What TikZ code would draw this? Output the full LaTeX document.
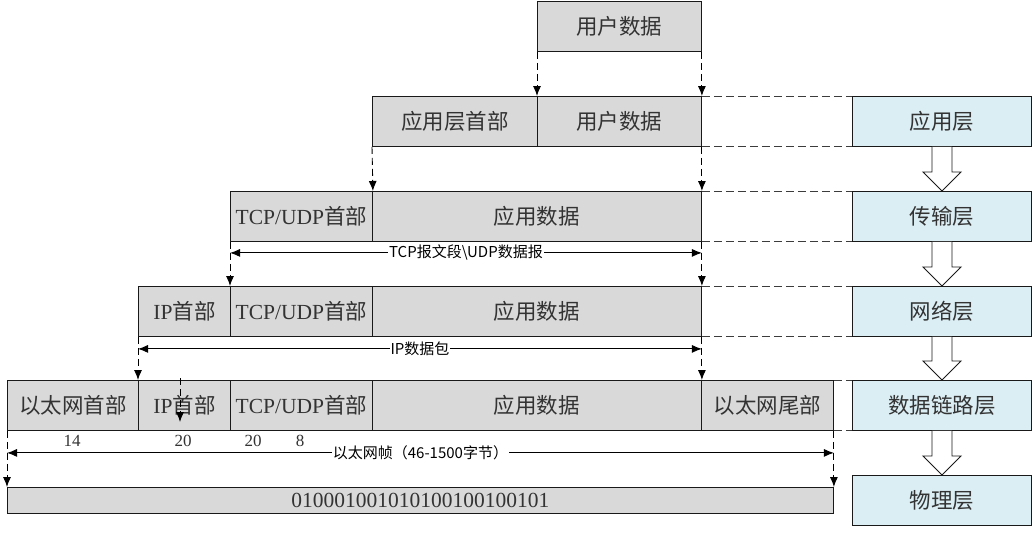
\documentclass[tikz,border=0pt]{standalone}
\usepackage{fontspec}
\setmainfont{Liberation Serif}
\newfontfamily\cjk{Noto Sans CJK SC}
\usetikzlibrary{arrows.meta}
\definecolor{segfill}{RGB}{217,217,217}
\definecolor{layerfill}{RGB}{219,238,244}
\definecolor{edge}{RGB}{25,25,25}
\tikzset{
  every path/.style={line width=0.9pt},
  seg/.style={draw=edge, fill=segfill, anchor=north west, inner sep=0pt,
    minimum height=50pt, text=black!80, font=\fontsize{21.5}{23}\selectfont},
  layer/.style={seg, fill=layerfill, minimum width=179pt},
  drop/.style={dashed, dash pattern=on 7pt off 4pt, -{Latex[length=10pt,width=8pt]}},
  guide/.style={dashed, dash pattern=on 8pt off 4pt, draw=edge!85},
  dim/.style={{Latex[length=10pt,width=8pt]}-{Latex[length=10pt,width=8pt]}},
  lbl/.style={fill=white, inner sep=1pt, font=\cjk\fontsize{15}{16}\selectfont},
  num/.style={font=\fontsize{17}{18}\selectfont, inner sep=0pt, text=black!80},
  hollow/.style={draw=edge, fill=white, line join=miter}
}
\begin{document}
\begin{tikzpicture}[x=1pt,y=1pt,yscale=-1]
\useasboundingbox (0,0) rectangle (1033,542);
% user data
\node[seg, minimum width=164pt] (ud0) at (537,1) {\cjk 用户数据};
% application layer row
\node[seg, minimum width=165pt] (ah) at (372,96) {\cjk 应用层首部};
\node[seg, minimum width=164pt] (ud) at (537,96) {\cjk 用户数据};
% transport layer row
\node[seg, minimum width=142pt] (th3) at (230,191) {TCP/UDP\cjk 首部};
\node[seg, minimum width=329pt] (ad3) at (372,191) {\cjk 应用数据};
% network layer row
\node[seg, minimum width=92pt] (ip4) at (138,286) {IP\cjk 首部};
\node[seg, minimum width=142pt] (th4) at (230,286) {TCP/UDP\cjk 首部};
\node[seg, minimum width=329pt] (ad4) at (372,286) {\cjk 应用数据};
% data link row
\node[seg, minimum width=131pt] (eh) at (7,380) {\cjk 以太网首部};
\node[seg, minimum width=92pt] (ip5) at (138,380) {IP\cjk 首部};
\node[seg, minimum width=142pt] (th5) at (230,380) {TCP/UDP\cjk 首部};
\node[seg, minimum width=329pt] (ad5) at (372,380) {\cjk 应用数据};
\node[seg, minimum width=132pt] (et) at (701,380) {\cjk 以太网尾部};
% physical bits
\node[seg, minimum width=826pt, minimum height=26pt] (bits) at (7,487) {010001001010100100100101};
% layer names
\node[layer] (L1) at (852,96) {\cjk 应用层};
\node[layer] (L2) at (852,191) {\cjk 传输层};
\node[layer] (L3) at (852,286) {\cjk 网络层};
\node[layer] (L4) at (852,380) {\cjk 数据链路层};
\node[layer] (L5) at (852,475) {\cjk 物理层};
% encapsulation drops
\draw[drop] (ud0.south west) -- (ud.north west);
\draw[drop] (ud0.south east) -- (ud.north east);
\draw[drop] (ah.south west) -- (th3.north east);
\draw[drop] (ud.south east) -- (ad3.north east);
\draw[drop] (th3.south west) -- (th4.north west);
\draw[drop] (ad3.south east) -- (ad4.north east);
\draw[drop] (ip4.south west) -- (ip5.north west);
\draw[drop] (ad4.south east) -- (ad5.north east);
\draw[drop] (eh.south west) -- (bits.north west);
\draw[drop] (et.south east) -- (bits.north east);
\coordinate (s1) at (180,378);
\coordinate (s2) at (180,422);
\draw[drop] (s1) -- (s2);
% guide lines to layers
\foreach \a/\b in {ud/L1, ad3/L2, ad4/L3, et/L4}{
  \draw[guide] (\a.north east) -- (\b.north west);
  \draw[guide] (\a.south east) -- (\b.south west);
}
% dimension arrows
\draw[dim] ([yshift=11pt]th3.south west) -- ([yshift=11pt]ad3.south east)
  node[midway, lbl] {TCP报文段\textbackslash UDP数据报};
\draw[dim] ([yshift=12pt]ip4.south west) -- ([yshift=12pt]ad4.south east)
  node[midway, lbl] {IP数据包};
\draw[dim] ([yshift=22pt]eh.south west) -- ([yshift=22pt]et.south east)
  node[midway, lbl] {以太网帧（46-1500字节）};
% byte counts
\node[num] (n14) at (72,441) {14};
\node[num] (n20a) at (183,441) {20};
\node[num] (n20b) at (253,441) {20};
\node[num] (n8) at (300,441) {8};
% hollow arrows between layers
\foreach \a/\b in {L1/L2, L2/L3, L3/L4, L4/L5}{
  \draw[hollow] ([xshift=-10pt]\a.south) -- ([xshift=-10pt,yshift=-19pt]\b.north)
    -- ([xshift=-19pt,yshift=-19pt]\b.north) -- (\b.north)
    -- ([xshift=19pt,yshift=-19pt]\b.north) -- ([xshift=10pt,yshift=-19pt]\b.north)
    -- ([xshift=10pt]\a.south);
}
\end{tikzpicture}
\end{document}
